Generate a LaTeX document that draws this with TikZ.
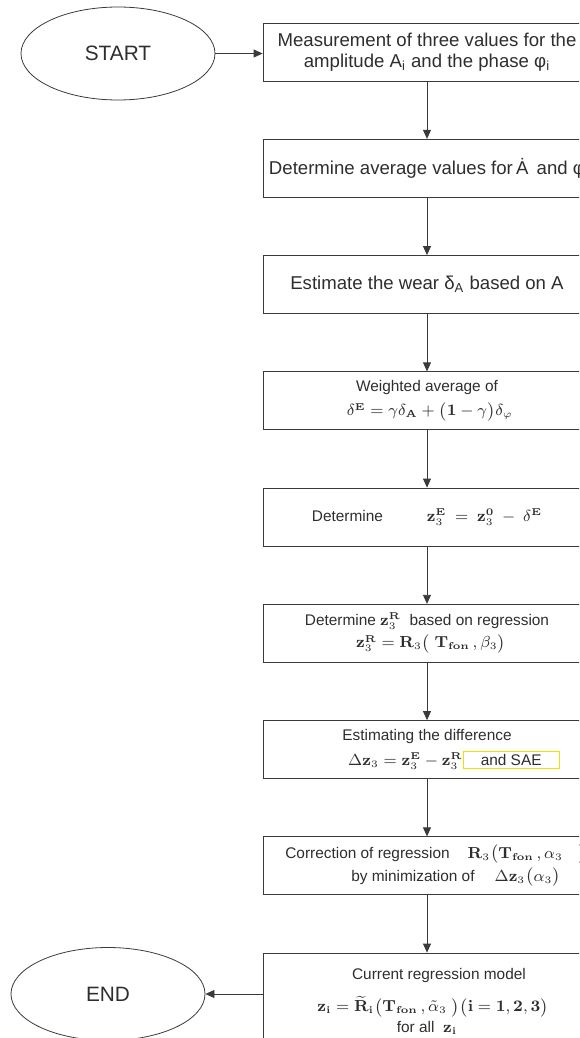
\documentclass[tikz,border=0pt]{standalone}
\usepackage[no-math]{fontspec}
\setmainfont{Liberation Sans}
\usepackage{amsmath}
\usetikzlibrary{shapes.geometric,arrows.meta}
\definecolor{linegray}{HTML}{3A3A3A}
\definecolor{textgray}{HTML}{2E2E2E}
\definecolor{saeyellow}{HTML}{F0E000}
\setlength{\fboxrule}{0.6pt}
\setlength{\fboxsep}{1.2pt}
\newcommand{\bz}{\mathbf{z}}
\newcommand{\Tfon}{\mathbf{T}_{\mathbf{fon}}}
\tikzset{
  box/.style={draw=linegray, minimum width=164pt, minimum height=29pt, align=center,
    inner sep=1pt, text=textgray, font=\fontsize{9.3}{10.6}\selectfont},
  smallbox/.style={box, font=\fontsize{7.7}{9.2}\selectfont},
  oval/.style={ellipse, draw=linegray, minimum width=97pt, minimum height=46.5pt,
    text=textgray, font=\fontsize{10.4}{12}\selectfont},
  flow/.style={draw=linegray, -{Triangle[length=4.5pt,width=4pt]}}
}
\begin{document}
\begin{tikzpicture}[x=0.5pt,y=-0.5pt]
  \clip (0,0) rectangle (579,1038);
  % terminals
  \node[oval] (start) at (118,53.5) {START};
  \node[oval] (finish) at (108,994) {END};
  % process boxes
  \node[box] (meas) at (427,52) {Measurement of three values for the\\
    amplitude A\textsubscript{i} and the phase φ\textsubscript{i}};
  \node[box] (avg) at (427,168.25) {Determine average values for\,\.A \,and φ};
  \node[box] (wear) at (427,284.5) {Estimate the wear δ\textsubscript{A} based on A};
  \node[smallbox] (weight) at (427,400.75) {Weighted average of\\[3pt]
    \hspace*{3pt}$\delta^{\mathbf E} = \gamma\delta_{\mathbf A} + \bigl(\mathbf 1 - \gamma\bigr)\delta_\varphi$};
  \node[smallbox] (detE) at (427,517) {Determine\hspace{22pt}%
    $\bz_3^{\mathbf E}\hspace{2pt}=\hspace{2pt}\bz_3^{\mathbf 0}\hspace{2pt}-\hspace{2pt}\delta^{\mathbf E}$};
  \node[smallbox] (detR) at (427,633.25) {Determine $\bz_3^{\mathbf R}$\ \ based on regression\\[2pt]
    \hspace*{4pt}$\bz_3^{\mathbf R} = \mathbf R_3\bigl(\ \Tfon\,, \beta_3\bigr)$};
  \node[smallbox] (diff) at (427,749.5) {Estimating the difference\\[3pt]
    \hspace*{27pt}$\Delta\bz_3 = \bz_3^{\mathbf E} - \bz_3^{\mathbf R}$%
    \fcolorbox{saeyellow}{white}{\makebox[45pt]{and SAE}}};
  \node[smallbox] (corr) at (427,865.75) {\hspace*{9pt}Correction of regression\hspace{9pt}%
    $\mathbf R_3\bigl(\Tfon\,, \alpha_3\quad\bigr)$\\[1pt]
    \hspace*{29pt}by minimization of\hspace{10pt}$\Delta\bz_3\bigl(\alpha_3\bigr)$};
  \node[smallbox, minimum height=48pt] (model) at (427,1001) {\hspace*{12pt}Current regression model\\[6pt]
    \hspace*{6pt}$\bz_{\mathbf i} = \widetilde{\mathbf R}_{\mathbf i}\bigl(\Tfon\,, \tilde\alpha_3\ \bigr)
    \bigl(\mathbf i = \mathbf{1, 2, 3}\bigr)$\\[1pt]
    for all\ \ $\bz_{\mathbf i}$};
  % connectors
  \draw[flow] (start.east) -- (start.east -| meas.west);
  \foreach \a/\b in {meas/avg, avg/wear, wear/weight, weight/detE,
    detE/detR, detR/diff, diff/corr, corr/model}
    \draw[flow] (\a) -- (\b);
  \draw[flow] (finish -| model.west) -- (finish.east);
\end{tikzpicture}
\end{document}
